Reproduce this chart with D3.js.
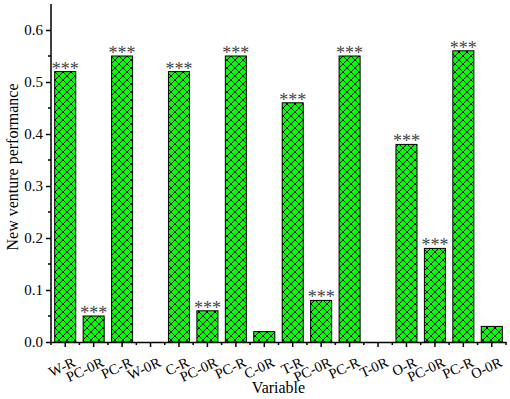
<!DOCTYPE html>
<html>
<head>
<meta charset="utf-8">
<script src="https://cdn.jsdelivr.net/npm/d3@7"></script>
<style>
  body { margin: 0; background: #fff; }
  text { font-family: "Liberation Serif", "Times New Roman", serif; }
</style>
</head>
<body>
<div id="chart"></div>
<script>
// Data
const categories = ["W-R", "PC-0R", "PC-R", "W-0R", "C-R", "PC-0R", "PC-R", "C-0R",
                    "T-R", "PC-0R", "PC-R", "T-0R", "O-R", "PC-0R", "PC-R", "O-0R"];
const values = [0.52, 0.05, 0.55, 0, 0.52, 0.06, 0.55, 0.02,
                0.46, 0.08, 0.55, 0, 0.38, 0.18, 0.56, 0.03];
const significance = ["***", "***", "***", "", "***", "***", "***", "",
                      "***", "***", "***", "", "***", "***", "***", ""];
const yTicks = [0.0, 0.1, 0.2, 0.3, 0.4, 0.5, 0.6];

const totalWidth = 510, totalHeight = 399;
const margin = { top: 4, right: 4, bottom: 57, left: 51 };
const width = totalWidth - margin.left - margin.right,
    height = totalHeight - margin.top - margin.bottom;

const svg = d3.select("#chart").append("svg")
    .attr("width", totalWidth)
    .attr("height", totalHeight);

// Cross hatch pattern
const p = 8;
const defs = svg.append("defs");
const pat = defs.append("pattern")
    .attr("id", "hatch")
    .attr("patternUnits", "userSpaceOnUse")
    .attr("width", p)
    .attr("height", p);
pat.append("rect").attr("width", p).attr("height", p).attr("fill", "#00ff00");
pat.append("path")
    .attr("d", `M0,0 L${p},${p} M${p},0 L0,${p} M-1,${p-1} L1,${p+1} M${p-1},-1 L${p+1},1 M-1,1 L1,-1 M${p-1},${p+1} L${p+1},${p-1}`)
    .attr("stroke", "#000")
    .attr("stroke-width", 1);

const g = svg.append("g")
    .attr("transform", "translate(" + margin.left + "," + margin.top + ")");

// Scales
const x = d3.scaleBand()
    .domain(d3.range(categories.length))
    .range([0, width])
    .paddingInner(0.26)
    .paddingOuter(0.13);

const y = d3.scaleLinear()
    .domain([0, 0.65])
    .range([height, 0]);

// Bars
g.selectAll(".bar")
    .data(values)
    .enter().append("rect")
    .attr("class", "bar")
    .attr("x", (d, i) => x(i))
    .attr("y", d => y(d))
    .attr("width", x.bandwidth())
    .attr("height", d => height - y(d))
    .attr("fill", "url(#hatch)")
    .attr("stroke", "#000")
    .attr("stroke-width", 1)
    .style("display", d => d > 0 ? null : "none");

// Significance labels
g.selectAll(".sig")
    .data(values)
    .enter().append("text")
    .attr("class", "sig")
    .attr("x", (d, i) => x(i) + x.bandwidth() / 2)
    .attr("y", d => y(d) + 3)
    .attr("text-anchor", "middle")
    .attr("font-size", 18)
    .attr("fill", "#444")
    .text((d, i) => significance[i]);

// Y axis
const yAxis = d3.axisLeft(y)
    .tickValues(yTicks)
    .tickFormat(d3.format(".1f"))
    .tickSize(5)
    .tickSizeOuter(0);

const yG = g.append("g").attr("class", "y-axis").call(yAxis);
yG.select(".domain").attr("stroke-width", 1.5).attr("d", "M0," + height + "V0");
yG.selectAll(".tick line").attr("stroke-width", 1.5);
yG.selectAll(".tick text").attr("font-size", 15).attr("fill", "#000").attr("x", -8);

// Y minor ticks
g.selectAll(".y-minor")
    .data(d3.range(0.05, 0.65, 0.1))
    .enter().append("line")
    .attr("x1", -3).attr("x2", 0)
    .attr("y1", d => y(d)).attr("y2", d => y(d))
    .attr("stroke", "#000").attr("stroke-width", 1.5);

// X axis
const xAxis = d3.axisBottom(x)
    .tickFormat(i => categories[i])
    .tickSize(5)
    .tickSizeOuter(0);

const xG = g.append("g")
    .attr("class", "x-axis")
    .attr("transform", "translate(0," + height + ")")
    .call(xAxis);
xG.select(".domain").attr("stroke-width", 1.5);
xG.selectAll(".tick line").attr("stroke-width", 1.5);
xG.selectAll(".tick text")
    .attr("font-size", 14.5)
    .attr("fill", "#000")
    .attr("text-anchor", "end")
    .attr("transform", "translate(9,19) rotate(-25)")
    .attr("x", 0)
    .attr("y", 0)
    .attr("dy", "0.35em");

// X minor ticks at band boundaries
g.selectAll(".x-minor")
    .data(d3.range(categories.length + 1))
    .enter().append("line")
    .attr("x1", i => i * x.step()).attr("x2", i => i * x.step())
    .attr("y1", height).attr("y2", height + 3)
    .attr("stroke", "#000").attr("stroke-width", 1.5);

// Axis titles
g.append("text")
    .attr("x", width / 2)
    .attr("y", height + 51)
    .attr("text-anchor", "middle")
    .attr("font-size", 16)
    .text("Variable");

g.append("text")
    .attr("transform", "rotate(-90)")
    .attr("x", -163)
    .attr("y", -33)
    .attr("text-anchor", "middle")
    .attr("font-size", 16)
    .text("New venture performance");
</script>
</body>
</html>
